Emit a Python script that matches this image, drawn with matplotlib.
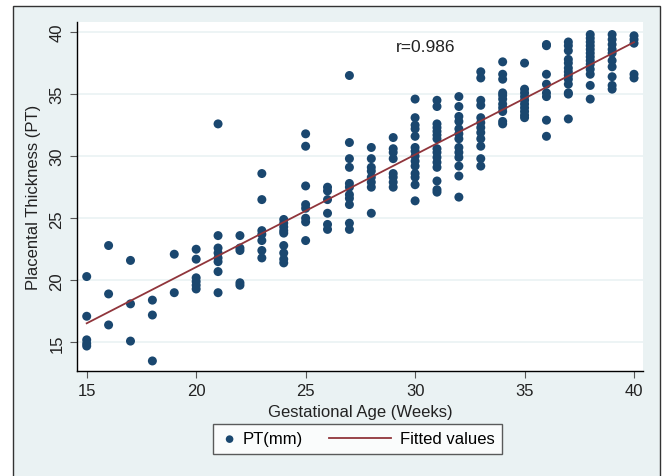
import numpy as np
import matplotlib
matplotlib.use('Agg')
import matplotlib.pyplot as plt
from matplotlib.patches import Rectangle
from matplotlib.lines import Line2D
from matplotlib.legend_handler import HandlerPathCollection, HandlerLine2D

plt.rcParams['font.family'] = ['Liberation Sans', 'DejaVu Sans']

#-------------------------------------------------------------------------------
# Data: placental thickness (mm) per gestational week
#-------------------------------------------------------------------------------
weeks = list(range(15, 41))
pt_by_week = [
    [20.3, 17.1, 15.2, 14.9, 14.7],                                   # 15
    [22.8, 18.9, 16.4],                                               # 16
    [21.6, 18.1, 15.1],                                               # 17
    [18.4, 17.2, 13.5],                                               # 18
    [22.1, 19.0],                                                     # 19
    [22.5, 21.7, 20.2, 19.9, 19.6, 19.3],                             # 20
    [32.6, 23.6, 22.6, 22.2, 21.8, 21.5, 20.7, 19.0],                 # 21
    [23.6, 22.6, 22.4, 19.8, 19.6],                                   # 22
    [28.6, 26.5, 24.0, 23.7, 23.2, 22.4, 21.8],                       # 23
    [24.9, 24.6, 24.3, 24.0, 23.8, 22.8, 22.2, 21.7, 21.4],           # 24
    [31.8, 30.8, 27.6, 26.1, 25.8, 25.0, 24.7, 23.2],                 # 25
    [27.5, 27.2, 26.5, 25.4, 24.5, 24.1],                             # 26
    [36.5, 31.1, 29.8, 29.1, 27.8, 27.5, 26.9, 26.6, 26.1, 24.6, 24.1],  # 27
    [30.7, 29.8, 29.1, 28.8, 28.3, 27.9, 27.5, 25.4],                 # 28
    [31.5, 30.6, 30.3, 29.8, 28.6, 28.3, 27.9, 27.5],                 # 29
    [34.6, 33.1, 32.5, 32.2, 31.6, 30.7, 30.4, 30.0, 29.6, 29.2,
     28.6, 28.3, 27.7, 26.4],                                         # 30
    [34.5, 34.0, 32.6, 32.3, 32.0, 31.7, 31.4, 30.6, 30.3, 29.9,
     29.5, 29.1, 28.0, 27.3, 27.1],                                   # 31
    [34.8, 34.0, 33.2, 32.8, 32.2, 31.8, 31.4, 30.7, 30.3, 29.9,
     29.2, 28.4, 26.7],                                               # 32
    [36.8, 36.3, 34.5, 34.1, 33.1, 32.7, 32.3, 31.9, 31.4, 30.8,
     29.8, 29.2],                                                     # 33
    [37.6, 36.6, 36.2, 35.1, 34.9, 34.6, 34.2, 33.9, 33.6, 32.8, 32.6],  # 34
    [37.5, 35.4, 35.1, 34.8, 34.5, 34.2, 33.9, 33.6, 33.3, 33.1],     # 35
    [39.0, 38.9, 36.6, 35.8, 35.1, 34.8, 32.9, 31.6],                 # 36
    [39.2, 38.9, 38.5, 37.8, 37.5, 37.1, 36.8, 36.5, 36.2, 35.8,
     35.1, 35.0, 33.0],                                               # 37
    [39.8, 39.5, 39.2, 38.9, 38.6, 38.3, 38.0, 37.7, 37.4, 37.0,
     36.6, 35.7, 34.6],                                               # 38
    [39.8, 39.4, 39.0, 38.6, 38.3, 37.7, 37.2, 36.4, 35.7, 35.4],     # 39
    [39.7, 39.4, 39.1, 36.6, 36.3],                                   # 40
]
x_ticks = [15, 20, 25, 30, 35, 40]
y_ticks = [15, 20, 25, 30, 35, 40]
r_text  = 'r=0.986'

ga = np.concatenate([[w] * len(v) for w, v in zip(weeks, pt_by_week)]).astype(float)
pt = np.concatenate(pt_by_week)

# least squares fit -> "Fitted values"
slope, icept = np.polyfit(ga, pt, 1)
xfit = np.array([min(weeks), max(weeks)], dtype=float)
yfit = icept + slope * xfit

#-------------------------------------------------------------------------------
# Legend handlers: marker sits next to its label, line key is long (Stata style)
#-------------------------------------------------------------------------------
class RightMarker(HandlerPathCollection):
    def get_xdata(self, legend, xdescent, ydescent, width, height, fontsize):
        x = -xdescent + width - 0.25 * fontsize
        return [x], [x]

class LongLine(HandlerLine2D):
    def __init__(self, extra, **kw):
        super().__init__(**kw)
        self.extra = extra
    def create_artists(self, legend, orig_handle, xdescent, ydescent,
                       width, height, fontsize, trans):
        y = (height - ydescent) / 2
        line = Line2D([-xdescent - self.extra * fontsize, -xdescent + width], [y, y])
        self.update_prop(line, orig_handle, legend)
        line.set_marker('None')
        line.set_transform(trans)
        return [line]

#-------------------------------------------------------------------------------
# Figure (Stata s2color look)
#-------------------------------------------------------------------------------
W, H = 662, 477
navy   = '#1A476F'
maroon = '#90353B'
bgblue = '#EAF2F3'

fig = plt.figure(figsize=(W / 100, H / 100), dpi=100)
fig.patch.set_facecolor('white')
fig.patches.append(Rectangle((12.5 / W, -0.05), (660 - 12.5) / W, 1.05 - 6.5 / H,
                             transform=fig.transFigure, facecolor=bgblue,
                             edgecolor='#333333', linewidth=1.0, zorder=-10))

ax = fig.add_axes([77 / W, 1 - 372 / H, (643 - 77) / W, (372 - 23) / H])
ax.set_facecolor('white')
for s in ['top', 'right']:
    ax.spines[s].set_visible(False)
for s in ['left', 'bottom']:
    ax.spines[s].set_color('black')
    ax.spines[s].set_linewidth(1.0)

ax.set_xlim(14.557, 40.41)
ax.set_ylim(12.69, 40.81)
ax.set_xticks(x_ticks)
ax.set_yticks(y_ticks)
ax.set_yticklabels([str(t) for t in y_ticks], rotation=90, va='center')
ax.tick_params(direction='out', length=5, width=0.8, color='#555555',
               labelsize=12, labelcolor='#222222', pad=4)
ax.yaxis.grid(True, color=bgblue, linewidth=1.2)
ax.set_axisbelow(True)

pts = ax.scatter(ga, pt, s=42, color=navy, edgecolors='none', zorder=3, label='PT(mm)')
fit, = ax.plot(xfit, yfit, color=maroon, linewidth=1.3, zorder=4, label='Fitted values')

ax.text(29.1, 38.87, r_text, fontsize=12.5, color='#222222', va='center', ha='left')

ax.set_xlabel('Gestational Age (Weeks)', fontsize=12, color='#222222', labelpad=4)
ax.set_ylabel('Placental Thickness (PT)', fontsize=12, color='#222222', labelpad=6)

leg = fig.legend(handles=[pts, fit], loc='center',
                 bbox_to_anchor=(357.5 / W, 1 - 440 / H), ncol=2,
                 fontsize=12, frameon=True, fancybox=False, handlelength=0.8,
                 columnspacing=4.45, handletextpad=0.55, borderpad=0.45,
                 handler_map={pts: RightMarker(), fit: LongLine(2.92)})
leg.get_frame().set_edgecolor('#333333')
leg.get_frame().set_linewidth(1.0)
leg.get_frame().set_facecolor('white')
leg.legend_handles[0].set_sizes([30])

fig.savefig('out.png', dpi=100, facecolor=fig.get_facecolor())
